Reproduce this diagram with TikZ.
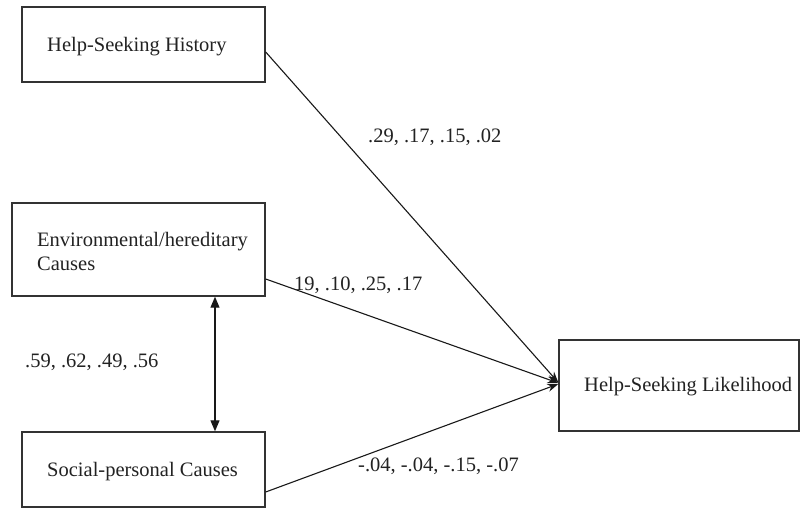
\documentclass[tikz,border=0pt]{standalone}
\usepackage{fontspec}
\setmainfont{Liberation Serif}
\usetikzlibrary{arrows.meta}
\definecolor{boxline}{HTML}{333333}
\definecolor{txt}{HTML}{222222}
\tikzset{
  box/.style={draw=boxline, line width=1.4pt, rectangle, inner sep=0pt},
  lbl/.style={anchor=base west, inner sep=0pt, text=txt, font=\fontsize{20.5}{24}\selectfont},
  conn/.style={line width=1.1pt, draw=black!90},
  arrowtip/.style={-{Stealth[length=11pt,width=8pt]}},
  dbl/.style={{Triangle[length=11pt,width=9pt]}-{Triangle[length=11pt,width=9pt]}}
}
\begin{document}
\begin{tikzpicture}[x=1pt,y=-1pt]
\useasboundingbox (0,0) rectangle (800,508);
\fill[white] (0,0) rectangle (800,508);
% boxes
\node[box, minimum width=243pt, minimum height=75pt] (hist) at (143.5,44.5) {};
\node[box, minimum width=253pt, minimum height=93pt] (env) at (138.5,249.5) {};
\node[box, minimum width=243pt, minimum height=75pt] (soc) at (143.5,469.5) {};
\node[box, minimum width=240pt, minimum height=91pt] (like) at (679,385.5) {};
% box texts
\node[lbl] (histT) at (47,52) {Help-Seeking History};
\node[lbl] (envT1) at (37,246.5) {Environmental/hereditary};
\node[lbl] (envT2) at (37,270.5) {Causes};
\node[lbl] (socT) at (47,476) {Social-personal Causes};
\node[lbl] (likeT) at (584,391) {Help-Seeking Likelihood};
% connectors
\draw[conn, arrowtip] ([yshift=-7.5pt]hist.east) -- ([yshift=3pt]like.west);
\draw[conn, arrowtip] ([yshift=-29.5pt]env.east) -- ([yshift=2.5pt]like.west);
\draw[conn, arrowtip] ([yshift=-22.5pt]soc.east) -- ([yshift=1.5pt]like.west);
\draw[conn, dbl] ([xshift=76.5pt]env.south) -- ([xshift=71.5pt]soc.north);
% coefficient labels
\node[lbl] (c1) at (368,142.5) {.29, .17, .15, .02};
\node[lbl] (c2) at (294,290) {19, .10, .25, .17};
\node[lbl] (c3) at (25,367) {.59, .62, .49, .56};
\node[lbl] (c4) at (358,471.5) {-.04, -.04, -.15, -.07};
\end{tikzpicture}
\end{document}
